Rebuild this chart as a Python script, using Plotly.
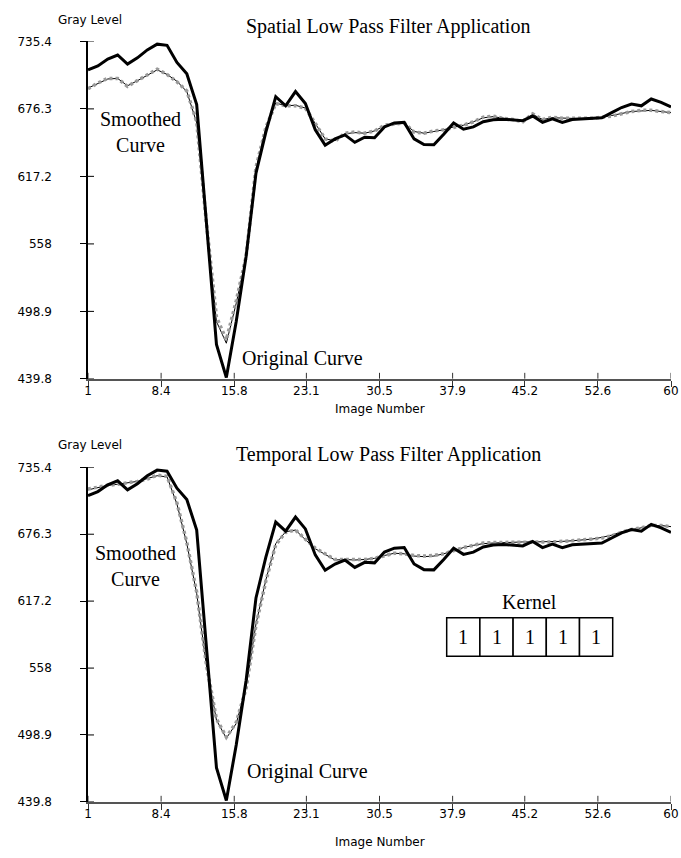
import plotly.graph_objects as go

# ---------------- data ----------------
images = list(range(1, 61))

original = [710.5, 714, 720, 723.5, 715.5, 721, 728, 733, 732, 717,
            707, 680, 575, 470, 441, 490, 547, 620, 656, 687,
            679, 691.5, 681, 658, 644.5, 650, 653.5, 647, 651.5, 651,
            660.5, 664, 664.5, 650, 645, 644.8, 654, 664, 658.5, 660.5,
            665, 666.8, 667.2, 666.5, 666, 670, 664.5, 667.5, 664.5, 667,
            667.5, 668, 668.5, 673, 677.5, 680.5, 679, 685, 682, 678]

spatial_dotted = [694, 699, 703, 703, 696, 701, 706, 711, 706.5, 700,
                  692, 665, 575, 494, 474, 508, 547, 625, 660, 681,
                  679, 679, 677, 664, 650, 648, 655, 656, 655, 657,
                  662, 663, 664, 656, 655, 657, 658, 660, 662, 665,
                  669, 670, 668, 667, 665, 672, 667, 669, 668, 668,
                  668, 668, 669, 670, 672, 674, 675, 675, 674, 673]

spatial_thin = [694.5, 698.5, 702.5, 703, 696.5, 701, 706, 710.5, 706.5, 700.5,
                691.5, 664, 574, 490, 471, 506, 546, 624, 660, 681.5,
                679, 679.5, 677, 663.5, 650, 648.5, 654.5, 655.5, 655, 657,
                661.5, 663, 663.5, 656.5, 655, 656.5, 658, 660.5, 662, 665,
                668.5, 669.5, 668, 667, 665.5, 671.5, 667, 668.5, 668, 668,
                668, 668.5, 669, 670.5, 672, 674, 674.5, 675, 674, 673]

temporal_dotted = [716.3, 718, 719.5, 720.5, 721.5, 723, 725, 728.5, 727.5, 704,
                   669, 625, 560, 513, 497, 510, 540, 596, 635, 667,
                   678, 680, 672, 664, 659, 654, 654, 654, 654, 655,
                   657, 659.5, 659, 657.5, 657, 657.5, 659, 662, 664.5, 666.5,
                   668.5, 669, 669, 669.5, 669.5, 669.5, 669.5, 669.5, 670, 670.5,
                   671, 672, 673, 675, 678, 680.5, 682, 684, 684, 683]

temporal_thin = [715.5, 717.5, 719.5, 720.5, 721.5, 723, 725.5, 728, 727, 703,
                 668, 624, 559, 512, 496, 509, 541, 597, 636, 668,
                 678.5, 680, 671.5, 663.5, 658.5, 653.5, 654, 653.5, 654, 655,
                 657.5, 659.5, 659, 657, 656.5, 657, 659, 662, 664.5, 666.5,
                 668, 668.5, 669, 669, 669.5, 669.5, 669.5, 669.5, 670, 670.5,
                 671, 672, 673.5, 675.5, 678.5, 680.5, 682, 683.5, 684, 683]

x_tick_labels = ["1", "8.4", "15.8", "23.1", "30.5", "37.9", "45.2", "52.6", "60"]
y_tick_labels = ["439.8", "498.9", "558", "617.2", "676.3", "735.4"]
kernel = [1, 1, 1, 1, 1]

titles = ["Spatial Low Pass Filter Application", "Temporal Low Pass Filter Application"]

# ---------------- figure ----------------
W, H = 681, 858
SERIF = "Liberation Serif"
SANS = "DejaVu Sans"

fig = go.Figure()

panels = [
    (spatial_dotted, spatial_thin, "x", "y"),
    (temporal_dotted, temporal_thin, "x2", "y2"),
]
for dotted, thin, xa, ya in panels:
    fig.add_trace(go.Scatter(x=images, y=thin, mode="lines", xaxis=xa, yaxis=ya,
                             line=dict(color="black", width=1),
                             showlegend=False, hoverinfo="skip"))
    fig.add_trace(go.Scatter(x=images, y=dotted, mode="lines", xaxis=xa, yaxis=ya,
                             line=dict(color="#9a9a9a", width=3.5, dash="3px,3px"),
                             showlegend=False, hoverinfo="skip"))
    fig.add_trace(go.Scatter(x=images, y=original, mode="lines", xaxis=xa, yaxis=ya,
                             line=dict(color="black", width=3),
                             showlegend=False, hoverinfo="skip"))

x_vals = [float(t) for t in x_tick_labels]
y_vals = [float(t) for t in y_tick_labels]

def xaxis_cfg(anchor):
    return dict(range=[1, 60], domain=[0, 1], anchor=anchor,
                tickvals=x_vals, ticktext=x_tick_labels,
                ticks="outside", ticklen=6, tickcolor="#333", tickwidth=1,
                showline=True, linecolor="#555", linewidth=1.5,
                showgrid=False, zeroline=False, ticklabelstandoff=-6,
                tickfont=dict(family=SANS, size=12, color="black"))

def yaxis_cfg(anchor, dom):
    return dict(range=[439.8, 735.4], domain=dom, anchor=anchor,
                tickvals=y_vals, ticktext=y_tick_labels,
                ticks="outside", ticklen=6, tickcolor="black", tickwidth=1,
                showline=True, linecolor="black", linewidth=1.5,
                showgrid=False, zeroline=False, ticklabelstandoff=26,
                tickfont=dict(family=SANS, size=12, color="black"))

top_dom = [1 - 378 / H, 1 - 35 / H]
bot_dom = [1 - 808 / H, 1 - 468 / H]

fig.update_layout(
    width=W, height=H,
    margin=dict(l=88, r=10, t=0, b=0),
    plot_bgcolor="white", paper_bgcolor="white",
    xaxis=xaxis_cfg("y"), yaxis=yaxis_cfg("x", top_dom),
    xaxis2=xaxis_cfg("y2"), yaxis2=yaxis_cfg("x2", bot_dom),
)

# inner halves of the crossing ticks
shapes = []
for xa, ya in (("x", "y"), ("x2", "y2")):
    for v in x_vals:
        shapes.append(dict(type="line", xref=xa, yref=ya, ysizemode="pixel", yanchor=439.8,
                           x0=v, x1=v, y0=0, y1=6, line=dict(color="#333", width=1)))
    for v in y_vals:
        shapes.append(dict(type="line", xref=xa, yref=ya, xsizemode="pixel", xanchor=1,
                           x0=0, x1=6, y0=v, y1=v, line=dict(color="black", width=1)))

# kernel boxes (bottom panel)
KX0, KW, KY0, KY1 = 37.3, 3.36, 568.5, 602.4
for k, val in enumerate(kernel):
    shapes.append(dict(type="rect", xref="x2", yref="y2",
                       x0=KX0 + k * KW, x1=KX0 + (k + 1) * KW, y0=KY0, y1=KY1,
                       line=dict(color="black", width=1.5), fillcolor="white", layer="above"))
fig.update_layout(shapes=shapes)

ann = []
def paper_y(px):
    return 1 - px / H

# titles and axis labels
for title, ty, gy, iy in ((titles[0], 20, 13, 409), (titles[1], 455, 445, 849)):
    ann.append(dict(text=title, xref="paper", yref="paper", x=(388 - 88) / 583, y=paper_y(ty),
                    xanchor="center", yanchor="middle", showarrow=False,
                    font=dict(family=SERIF, size=20, color="black")))
    ann.append(dict(text="Gray Level", xref="paper", yref="paper", x=(90 - 88) / 583, y=paper_y(gy),
                    xanchor="center", yanchor="middle", showarrow=False,
                    font=dict(family=SANS, size=12, color="black")))
    ann.append(dict(text="Image Number", xref="paper", yref="paper", x=0.5, y=paper_y(iy),
                    xanchor="center", yanchor="middle", showarrow=False,
                    font=dict(family=SANS, size=12, color="black")))

# curve labels
ann += [
    dict(text="Smoothed<br>Curve", xref="x", yref="y", x=6.36, y=656, xanchor="center", yanchor="middle"),
    dict(text="Original Curve", xref="x", yref="y", x=16.4, y=458, xanchor="left", yanchor="middle"),
    dict(text="Smoothed<br>Curve", xref="x2", yref="y2", x=5.76, y=648, xanchor="center", yanchor="middle"),
    dict(text="Original Curve", xref="x2", yref="y2", x=16.9, y=467, xanchor="left", yanchor="middle"),
    dict(text="Kernel", xref="x2", yref="y2", x=45.7, y=616.4, xanchor="center", yanchor="middle"),
]
for k, val in enumerate(kernel):
    ann.append(dict(text=str(val), xref="x2", yref="y2", x=KX0 + (k + 0.5) * KW, y=(KY0 + KY1) / 2,
                    xanchor="center", yanchor="middle"))
for a in ann:
    a.setdefault("showarrow", False)
    a.setdefault("font", dict(family=SERIF, size=20, color="black"))
fig.update_layout(annotations=ann)

fig.write_html("out.html")
